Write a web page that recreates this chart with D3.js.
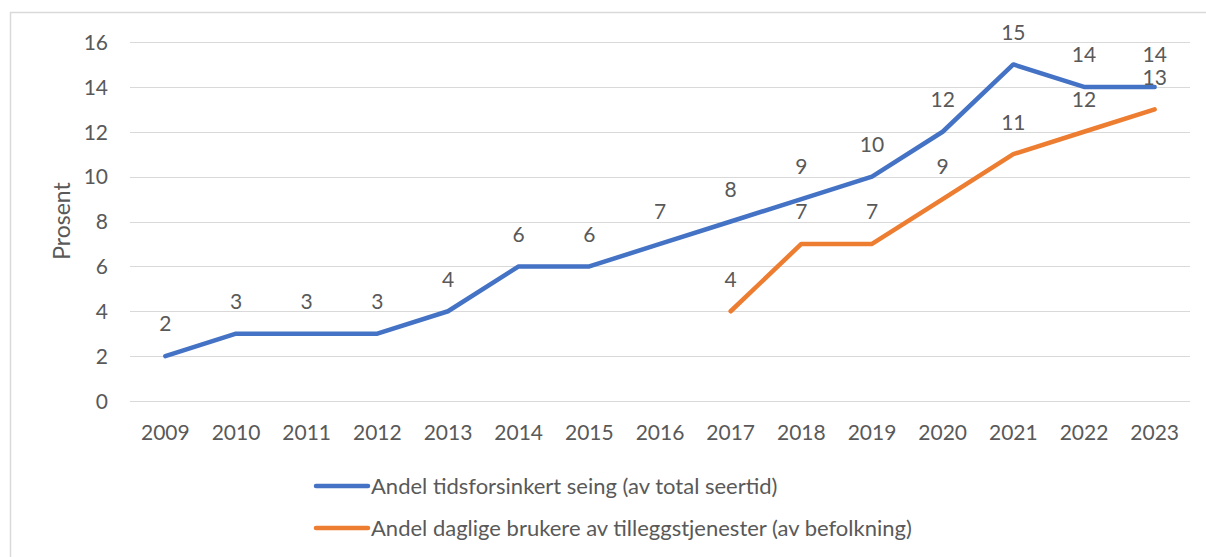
<!DOCTYPE html>
<html><head><meta charset="utf-8">
<script src="https://cdn.jsdelivr.net/npm/d3@7"></script>
<style>body{margin:0;background:#fff}svg{display:block}text{font-family:Lato,"Open Sans",sans-serif;fill:#595959}</style>
</head><body><svg id="c" width="1206" height="557"></svg>
<script>
const years = ["2009","2010","2011","2012","2013","2014","2015","2016","2017","2018","2019","2020","2021","2022","2023"];
const seriesNames = ["Andel tidsforsinkert seing (av total seertid)","Andel daglige brukere av tilleggstjenester (av befolkning)"];
const delayed = [2,3,3,3,4,6,6,7,8,9,10,12,15,14,14];
const extra = [null,null,null,null,null,null,null,null,4,7,7,9,11,12,13];
const yTicks = [0,2,4,6,8,10,12,14,16];
const colors = ["#4472C4","#ED7D31"];

const svg = d3.select("#c");
svg.append("path").attr("d","M10.5,557 V12.5 H1206").attr("fill","none").attr("stroke","#d9d9d9").attr("stroke-width",1.5);

const x = d3.scaleBand().domain(years).range([130,1190]);
const y = d3.scaleLinear().domain([0,16]).range([401,42]);

const grid = svg.append("g");
yTicks.forEach(t=>{
  grid.append("line").attr("x1",130).attr("x2",1190).attr("y1",Math.round(y(t))+0.5).attr("y2",Math.round(y(t))+0.5).attr("stroke","#d9d9d9").attr("stroke-width",1);
});
const yAxis = d3.axisLeft(y).tickValues(yTicks).tickSize(0).tickPadding(0);
const gy = svg.append("g").attr("transform","translate(108,0)").call(yAxis);
gy.select(".domain").remove();
gy.selectAll("text").style("font-size","21px").attr("fill","#595959").attr("dy","0.35em");

const xAxis = d3.axisBottom(x).tickSize(0).tickPadding(0);
const gx = svg.append("g").attr("transform","translate(0,433)").call(xAxis);
gx.select(".domain").remove();
gx.selectAll("text").style("font-size","21px").attr("fill","#595959").attr("y",0).attr("dy","0.35em");

svg.append("text").attr("transform","translate(62,221) rotate(-90)").attr("text-anchor","middle").attr("dy","0.35em").style("font-size","23px").text("Prosent");

const cx = d=>x(d)+x.bandwidth()/2;
[delayed, extra].forEach((vals,i)=>{
  const data = years.map((yr,j)=>({yr, v: vals[j]})).filter(d=>d.v!==null);
  svg.append("path").datum(data)
    .attr("d", d3.line().x(d=>cx(d.yr)).y(d=>y(d.v)))
    .attr("fill","none").attr("stroke",colors[i]).attr("stroke-width",4.5)
    .attr("stroke-linecap","round").attr("stroke-linejoin","round");
  svg.append("g").selectAll("text").data(data).join("text")
    .attr("x",d=>cx(d.yr)).attr("y",d=>y(d.v)-32).attr("dy","0.35em")
    .attr("text-anchor","middle").style("font-size","21px").text(d=>d.v);
});

seriesNames.forEach((n,i)=>{
  const ly = 486 + i*42;
  svg.append("line").attr("x1",316).attr("x2",368).attr("y1",ly).attr("y2",ly).attr("stroke",colors[i]).attr("stroke-width",4.5).attr("stroke-linecap","round");
  svg.append("text").attr("x",371).attr("y",ly).attr("dy","0.35em").style("font-size","22px").text(n);
});
</script></body></html>
